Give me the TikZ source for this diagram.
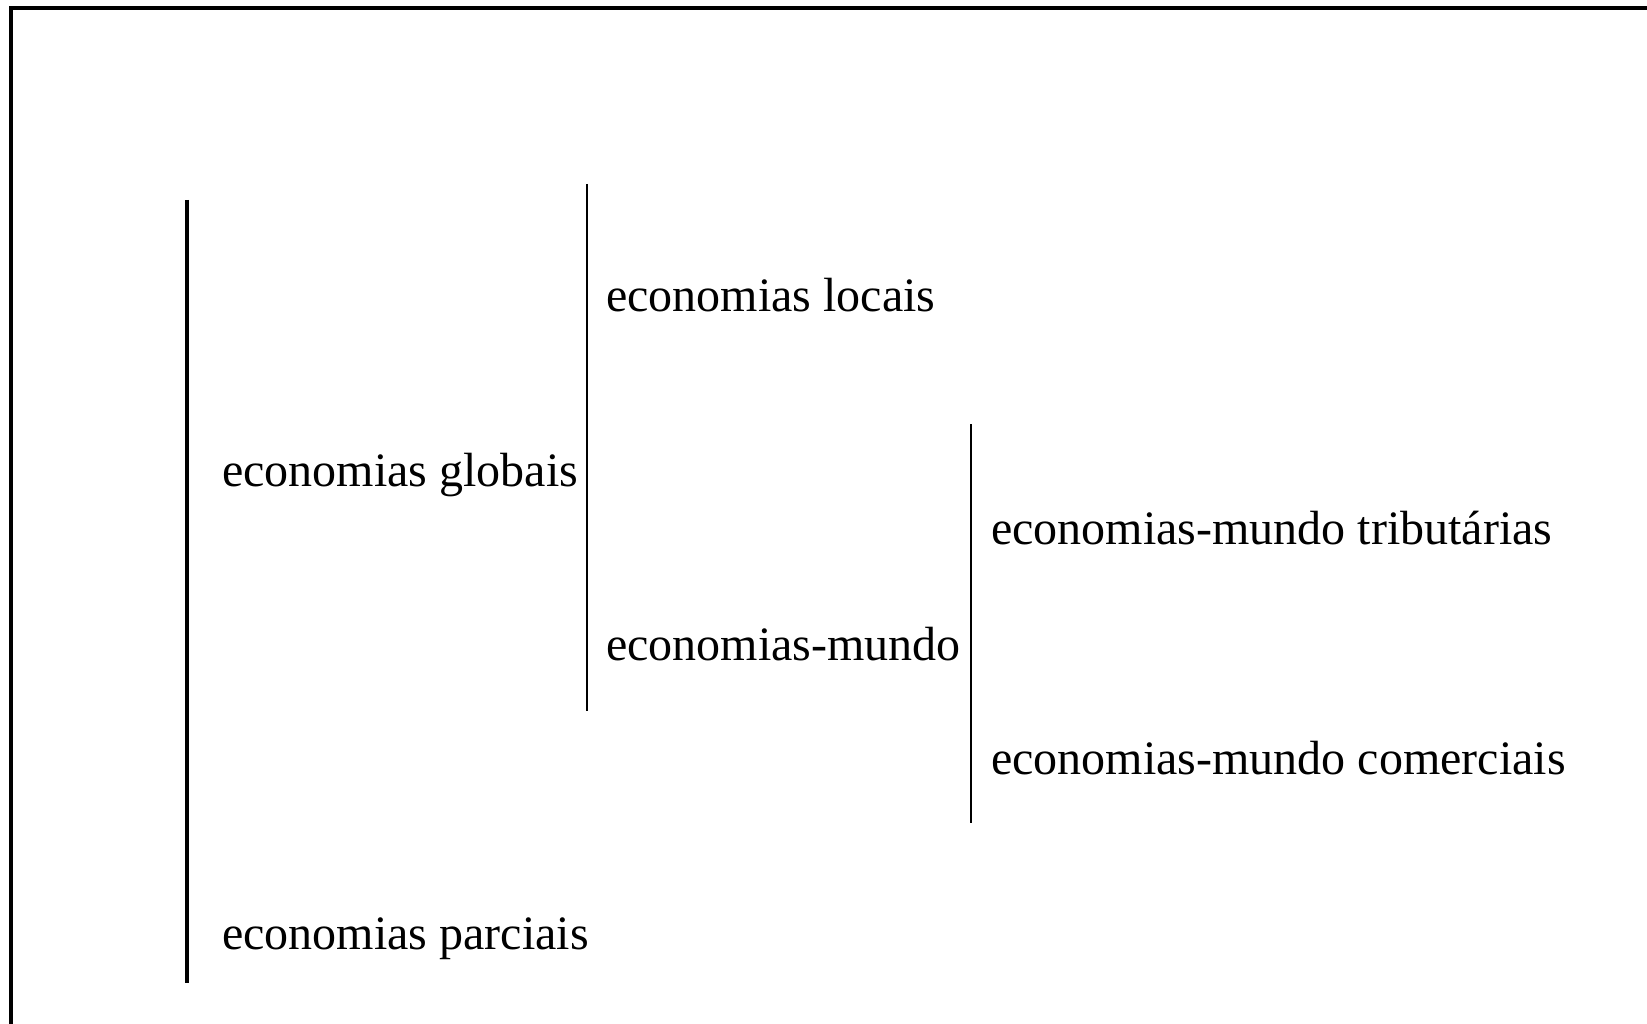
\documentclass[tikz,border=0pt]{standalone}
\usepackage{fontspec}
\setmainfont{Liberation Serif}
\begin{document}
\begin{tikzpicture}[x=1pt,y=-1pt,
  lbl/.style={anchor=base west, inner sep=0pt, font=\fontsize{48}{58}\selectfont},
  framebar/.style={line width=4pt},
  bigbar/.style={line width=4pt},
  bar/.style={line width=2pt}]
\useasboundingbox (0,0) rectangle (1647,1024);
\fill[white] (0,0) rectangle (1647,1024);
% frame (top and left edges only visible)
\coordinate (fbl) at (11,1024);
\coordinate (ftl) at (11,8);
\coordinate (ftr) at (1647,8);
\draw[framebar] (fbl) -- (ftl) -- (ftr);
% labels
\node[lbl] (globais) at (222,486) {economias globais};
\node[lbl] (parciais) at (222,949) {economias parciais};
\node[lbl] (locais) at (606,312) {economias locais};
\node[lbl] (mundo) at (606,660) {economias-mundo};
\node[lbl] (trib) at (991,544) {economias-mundo tributárias};
\node[lbl] (comer) at (991,774) {economias-mundo comerciais};
% bracket bars
\coordinate (b1t) at (187,200);
\coordinate (b1b) at (187,983);
\coordinate (b2t) at (587,184);
\coordinate (b2b) at (587,711);
\coordinate (b3t) at (971,424);
\coordinate (b3b) at (971,823);
\draw[bigbar] (b1t) -- (b1b);
\draw[bar] (b2t) -- (b2b);
\draw[bar] (b3t) -- (b3b);
\end{tikzpicture}
\end{document}
